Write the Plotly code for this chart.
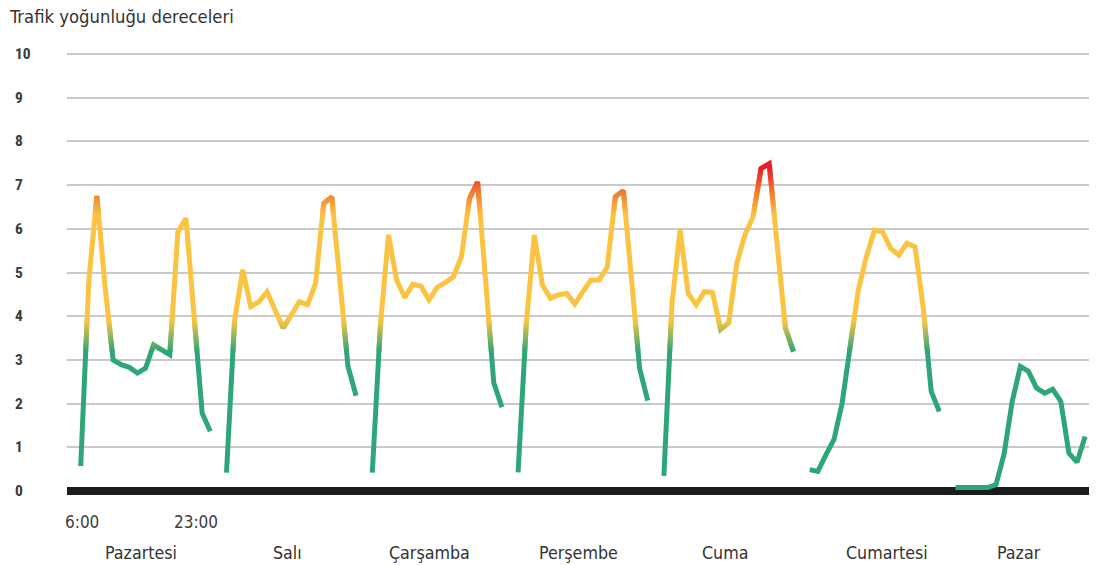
import numpy as np
import plotly.graph_objects as go

# ---------------- data ----------------
DAYS = ["Pazartesi", "Salı", "Çarşamba", "Perşembe", "Cuma", "Cumartesi", "Pazar"]
TIME_LABELS = ["6:00", "23:00"]
Y_TICKS = [0, 1, 2, 3, 4, 5, 6, 7, 8, 9, 10]
SLOTS = list(range(17))  # measurement slots within each day

PAZARTESI = [0.57, 4.8, 6.75, 4.7, 3.0, 2.89, 2.83, 2.70, 2.81, 3.34, 3.23, 3.12, 5.93, 6.24, 4.0, 1.78, 1.37]
SALI = [0.42, 3.9, 5.06, 4.22, 4.33, 4.56, 4.14, 3.73, 4.03, 4.33, 4.26, 4.75, 6.58, 6.73, 4.8, 2.85, 2.18]
CARSAMBA = [0.42, 3.8, 5.86, 4.83, 4.43, 4.73, 4.69, 4.37, 4.66, 4.77, 4.90, 5.36, 6.69, 7.07, 4.8, 2.47, 1.92]
PERSEMBE = [0.43, 3.8, 5.86, 4.71, 4.41, 4.49, 4.52, 4.28, 4.56, 4.83, 4.83, 5.12, 6.73, 6.87, 4.85, 2.81, 2.07]
CUMA = [0.35, 4.3, 5.97, 4.52, 4.26, 4.56, 4.54, 3.70, 3.85, 5.21, 5.86, 6.27, 7.38, 7.49, 5.6, 3.73, 3.19]
CUMARTESI = [0.49, 0.45, 0.83, 1.18, 2.01, 3.31, 4.6, 5.36, 5.97, 5.93, 5.55, 5.40, 5.67, 5.59, 4.22, 2.28, 1.82]
PAZAR = [0.08, 0.08, 0.08, 0.08, 0.08, 0.15, 0.85, 2.05, 2.85, 2.74, 2.36, 2.24, 2.33, 2.05, 0.87, 0.66, 1.25]

SERIES = [PAZARTESI, SALI, CARSAMBA, PERSEMBE, CUMA, CUMARTESI, PAZAR]

# ---------------- layout constants ----------------
DAY_PERIOD = 18          # slots from one day's start to the next
YMIN, YMAX = -0.25, 10.25
XMIN, XMAX = -1.69, 124.48
W, H = 1100, 565
ML, MR, MT, MB = 67, 11, 43, 63
PLOT_H = H - MT - MB
PLOT_BOTTOM = H - MB

GREEN = (46, 166, 120)
YELLOW = (250, 196, 66)
ORANGE = (242, 128, 48)
RED = (232, 28, 42)
COLOR_STOPS = [(3.2, GREEN), (3.9, YELLOW), (6.3, YELLOW), (6.8, ORANGE), (7.4, RED)]

FONT = "DejaVu Sans Condensed, Roboto Condensed, sans-serif"
TICK_FONT = "Roboto Condensed, DejaVu Sans Condensed, sans-serif"


def color_at(v):
    if v <= COLOR_STOPS[0][0]:
        c = COLOR_STOPS[0][1]
    elif v >= COLOR_STOPS[-1][0]:
        c = COLOR_STOPS[-1][1]
    else:
        for (a, ca), (b, cb) in zip(COLOR_STOPS[:-1], COLOR_STOPS[1:]):
            if a <= v <= b:
                t = 0 if b == a else (v - a) / (b - a)
                c = tuple(ca[i] + (cb[i] - ca[i]) * t for i in range(3))
                break
    return "rgb(%d,%d,%d)" % tuple(int(round(x)) for x in c)


# x / y arrays of all days, separated by gaps
xs, ys = [], []
for d, vals in enumerate(SERIES):
    xs += [d * DAY_PERIOD + s for s in SLOTS] + [None]
    ys += list(vals) + [None]

fig = go.Figure()

# invisible trace on the main axes (grid + zero line)
fig.add_trace(go.Scatter(x=xs, y=ys, mode="lines", line=dict(color="rgba(0,0,0,0)", width=1),
                         hoverinfo="skip", showlegend=False))

# value bands: same line drawn on stacked sub-axes, each clipped to its value band
edges = [YMIN, 3.2]
edges += list(np.round(np.arange(3.25, 3.9, 0.05), 3))
edges += [3.9, 6.3]
edges += list(np.round(np.arange(6.35, 7.4, 0.05), 3))
edges += [7.4, YMAX]
edges = sorted(set(float(e) for e in edges))

EPS = 0.04
span = YMAX - YMIN
layout_axes = {}
for i, (lo, hi) in enumerate(zip(edges[:-1], edges[1:])):
    n = i + 2
    top = hi if i == len(edges) - 2 else hi + EPS
    mid = (lo + hi) / 2
    fig.add_trace(go.Scatter(x=xs, y=ys, mode="lines", xaxis="x", yaxis="y%d" % n,
                             line=dict(color=color_at(mid), width=5, simplify=False),
                             hoverinfo="skip", showlegend=False))
    layout_axes["yaxis%d" % n] = dict(
        domain=[(lo - YMIN) / span, min(1.0, (top - YMIN) / span)],
        range=[lo, top], anchor="x", visible=False, showgrid=False,
        zeroline=False, fixedrange=True,
    )

annotations = []
# y tick labels (left aligned)
for v in Y_TICKS:
    annotations.append(dict(text=str(v), xref="paper", yref="y", x=(13 - ML) / (W - ML - MR), y=v,
                            xanchor="left", yanchor="middle", showarrow=False,
                            font=dict(family=TICK_FONT, size=15.5, color="#3a3a3a", weight="bold")))

# time labels under first day
TIME_X = [0.15, 14.2]
for t, xv in zip(TIME_LABELS, TIME_X):
    annotations.append(dict(text=t, xref="x", yref="paper", x=xv, y=(PLOT_BOTTOM - 521.5) / PLOT_H,
                            xanchor="center", yanchor="middle", showarrow=False,
                            font=dict(family=FONT, size=17, color="#3c3c3c")))

# day labels
DAY_LABEL_X = [7.5, 25.5, 43.0, 61.5, 79.6, 99.5, 115.8]
for name, xv in zip(DAYS, DAY_LABEL_X):
    annotations.append(dict(text=name, xref="x", yref="paper", x=xv, y=(PLOT_BOTTOM - 553) / PLOT_H,
                            xanchor="center", yanchor="middle", showarrow=False,
                            font=dict(family=FONT, size=17.7, color="#333333")))

fig.update_layout(
    template="none",
    width=W, height=H,
    margin=dict(l=ML, r=MR, t=MT, b=MB, pad=0),
    paper_bgcolor="white",
    plot_bgcolor="rgba(0,0,0,0)",
    showlegend=False,
    title=dict(text="Trafik yoğunluğu dereceleri", xref="container", yref="container",
               x=10 / W, y=1 - 17 / H, xanchor="left", yanchor="middle",
               font=dict(family=FONT, size=18.3, color="#333333")),
    xaxis=dict(range=[XMIN, XMAX], domain=[0, 1], showgrid=False, zeroline=False,
               showticklabels=False, ticks="", showline=False, fixedrange=True),
    yaxis=dict(range=[YMIN, YMAX], domain=[0, 1], tick0=0, dtick=1, showgrid=True,
               gridcolor="#c9c9c9", gridwidth=1.6, zeroline=True, zerolinecolor="#1c1c1c",
               zerolinewidth=8, showticklabels=False, ticks="", showline=False, fixedrange=True),
    annotations=annotations,
    **layout_axes,
)

fig.write_html("out.html")
